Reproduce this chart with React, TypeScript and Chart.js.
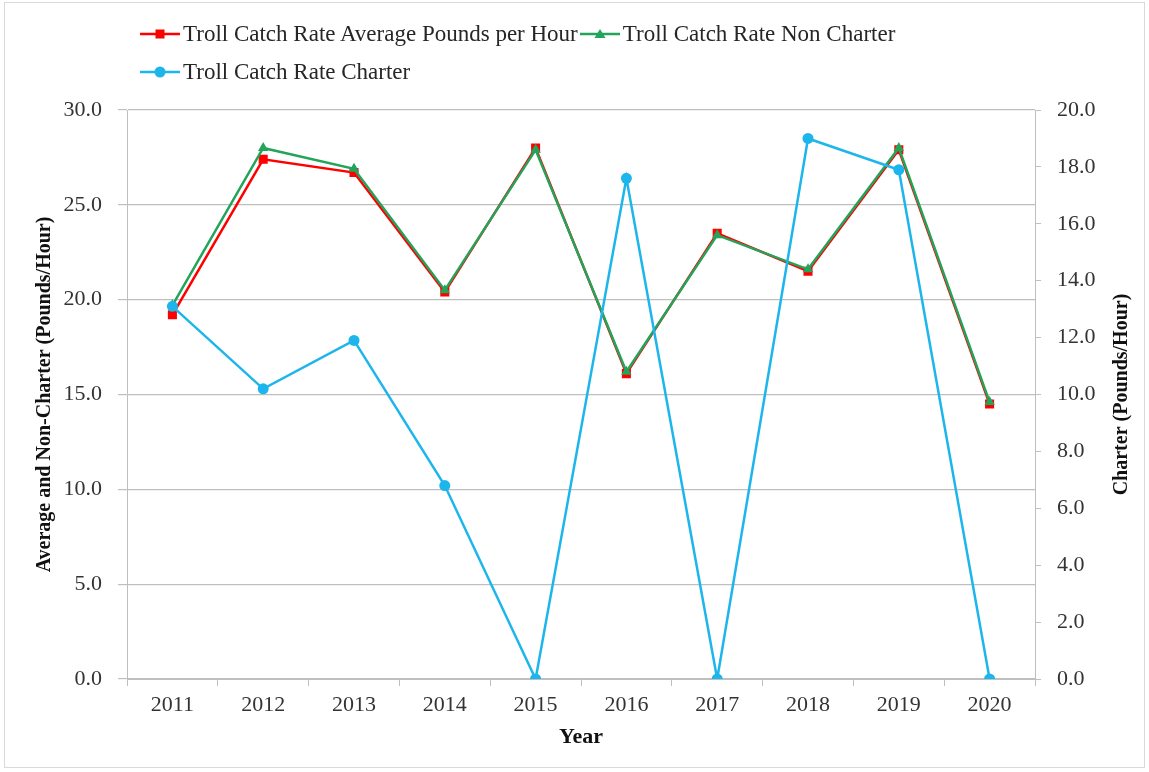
import React, { useEffect, useRef } from "react";
import { Chart, registerables } from "chart.js";

Chart.register(...registerables);

const years = ["2011", "2012", "2013", "2014", "2015", "2016", "2017", "2018", "2019", "2020"];
const averageValues = [19.2, 27.4, 26.7, 20.4, 28.0, 16.1, 23.5, 21.5, 27.9, 14.5];
const nonCharterValues = [19.7, 28.0, 26.9, 20.5, 27.9, 16.2, 23.4, 21.6, 28.0, 14.6];
const charterValues = [13.1, 10.2, 11.9, 6.8, 0.0, 17.6, 0.0, 19.0, 17.9, 0.0];

const seriesLabels = [
  "Troll Catch Rate Average Pounds per Hour",
  "Troll Catch Rate Non Charter",
  "Troll Catch Rate Charter",
];
const rightAxisTitle = "Charter (Pounds/Hour)";
const RED = "#FF0000";
const GREEN = "#22A45A";
const CYAN = "#1CB6EC";
const FONT = "'Liberation Serif', 'Times New Roman', serif";
const GRID = "#BFBFBF";
const TICK_COLOR = "#333333";
const TITLE_COLOR = "#111111";

function Marker({ shape, color }: { shape: string; color: string }) {
  return (
    <svg width={42} height={40} style={{ display: "block", flex: "0 0 auto" }}>
      <line x1={0} y1={20} x2={40} y2={20} stroke={color} strokeWidth={2.5} />
      {shape === "rect" && <rect x={15.5} y={15.5} width={9} height={9} fill={color} />}
      {shape === "triangle" && <polygon points="20,15 25.5,24 14.5,24" fill={color} />}
      {shape === "circle" && <circle cx={20} cy={20} r={5.5} fill={color} />}
    </svg>
  );
}

const rightTitlePlugin = {
  id: "rightTitle",
  afterDraw(chart: any) {
    const { ctx, chartArea } = chart;
    ctx.save();
    ctx.translate(1122, (chartArea.top + chartArea.bottom) / 2);
    ctx.rotate(-Math.PI / 2);
    ctx.font = `bold 20px ${FONT}`;
    ctx.fillStyle = TITLE_COLOR;
    ctx.textAlign = "center";
    ctx.textBaseline = "middle";
    ctx.fillText(rightAxisTitle, 0, 0);
    ctx.restore();
  },
};

export default function App() {
  const canvasRef = useRef<HTMLCanvasElement | null>(null);

  useEffect(() => {
    const canvas = canvasRef.current;
    if (!canvas) return;
    const chart = new Chart(canvas, {
      type: "line",
      data: {
        labels: years,
        datasets: [
          {
            label: seriesLabels[0],
            data: averageValues,
            borderColor: RED,
            backgroundColor: RED,
            pointStyle: "rect",
            pointRadius: 6.4,
            pointBorderWidth: 0,
            borderWidth: 2.5,
            yAxisID: "y",
            order: 3,
          },
          {
            label: seriesLabels[1],
            data: nonCharterValues,
            borderColor: GREEN,
            backgroundColor: GREEN,
            pointStyle: "triangle",
            pointRadius: 6,
            pointBorderWidth: 0,
            borderWidth: 2.5,
            yAxisID: "y",
            order: 2,
          },
          {
            label: seriesLabels[2],
            data: charterValues,
            borderColor: CYAN,
            backgroundColor: CYAN,
            pointStyle: "circle",
            pointRadius: 5.5,
            pointBorderWidth: 0,
            borderWidth: 2.5,
            yAxisID: "y1",
            order: 1,
          },
        ],
      },
      options: {
        responsive: false,
        animation: false,
        devicePixelRatio: 1,
        layout: { padding: { top: 110, left: 0, right: 0, bottom: 0 } },
        plugins: {
          legend: { display: false },
          tooltip: { enabled: false },
        },
        scales: {
          x: {
            type: "category",
            offset: true,
            grid: {
              offset: true,
              drawOnChartArea: false,
              drawTicks: true,
              tickLength: 7,
              color: GRID,
            },
            border: { display: true, color: GRID, width: 1 },
            ticks: {
              color: TICK_COLOR,
              font: { family: FONT, size: 22 },
              padding: 6,
              maxRotation: 0,
            },
            title: {
              display: true,
              text: "Year",
              color: TITLE_COLOR,
              font: { family: FONT, size: 22, weight: "bold" },
              padding: { top: 0, bottom: 21 },
            },
            afterFit: (scale: any) => {
              scale.height = 93;
            },
          },
          y: {
            position: "left",
            min: 0,
            max: 30,
            ticks: {
              stepSize: 5,
              color: TICK_COLOR,
              font: { family: FONT, size: 22 },
              padding: 16,
              callback: (v: any) => Number(v).toFixed(1),
            },
            grid: {
              color: GRID,
              lineWidth: 1.2,
              drawTicks: true,
              tickLength: 9,
            },
            border: { display: true, color: GRID, width: 1 },
            title: {
              display: true,
              text: "Average and Non-Charter (Pounds/Hour)",
              color: TITLE_COLOR,
              font: { family: FONT, size: 20, weight: "bold" },
              padding: { top: 33, bottom: 0 },
            },
            afterFit: (scale: any) => {
              scale.width = 127;
            },
          },
          y1: {
            position: "right",
            min: 0,
            max: 20,
            ticks: {
              stepSize: 2,
              color: TICK_COLOR,
              font: { family: FONT, size: 22 },
              padding: 16,
              callback: (v: any) => Number(v).toFixed(1),
            },
            grid: {
              color: GRID,
              drawOnChartArea: false,
              drawTicks: true,
              tickLength: 6,
            },
            border: { display: true, color: GRID, width: 1 },
            title: { display: false },
            afterFit: (scale: any) => {
              scale.width = 114;
            },
          },
        },
      },
      plugins: [rightTitlePlugin],
    });
    return () => chart.destroy();
  }, []);

  const legendItems = [
    { label: seriesLabels[0], color: RED, shape: "rect" },
    { label: seriesLabels[1], color: GREEN, shape: "triangle" },
    { label: seriesLabels[2], color: CYAN, shape: "circle" },
  ];

  return (
    <div>
      <div
        style={{
          position: "absolute",
          left: 4,
          top: 2,
          width: 1141,
          height: 766,
          border: "1px solid #D9D9D9",
          boxSizing: "border-box",
          background: "#fff",
        }}
      />
      <canvas
        ref={canvasRef}
        width={1149}
        height={772}
        style={{ position: "absolute", left: 0, top: 0, width: 1149, height: 772 }}
      />
      <div
        style={{
          position: "absolute",
          left: 140,
          top: 15,
          width: 800,
          display: "flex",
          flexWrap: "wrap",
          rowGap: 0,
        }}
      >
        {legendItems.map((it) => (
          <div key={it.label} style={{ display: "flex", alignItems: "center", height: 38, marginRight: 2 }}>
            <Marker shape={it.shape} color={it.color} />
            <span
              style={{
                fontFamily: FONT,
                fontSize: 23,
                color: "#262626",
                marginLeft: 1,
                whiteSpace: "nowrap",
                lineHeight: "38px",
              }}
            >
              {it.label}
            </span>
          </div>
        ))}
      </div>
    </div>
  );
}
